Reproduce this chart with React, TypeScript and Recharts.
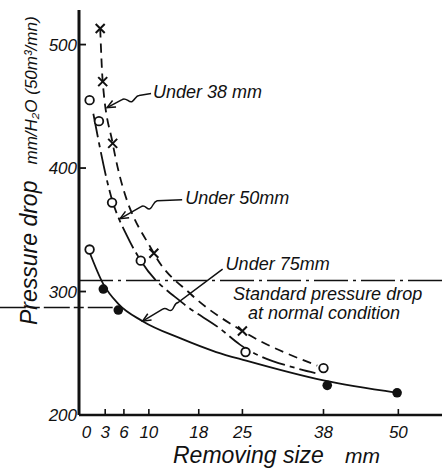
import React from 'react';
import {
  ComposedChart,
  Line,
  Scatter,
  XAxis,
  YAxis,
  ReferenceLine,
  ReferenceDot,
  Label,
} from 'recharts';

const FONT = "'Liberation Sans', Arial, sans-serif";
const INK = '#111';

// axis ticks
const sizeTicks = [0, 3, 6, 10, 18, 25, 38, 50];
const dropTicks = [200, 300, 400, 500];

// measured points: removing size (mm) vs pressure drop (mm H2O)
const under38Points = [
  { size: 2.2, drop: 513 },
  { size: 2.6, drop: 470 },
  { size: 4.2, drop: 420 },
  { size: 10.8, drop: 331 },
  { size: 25, drop: 268 },
];
const under50Points = [
  { size: 0.5, drop: 455 },
  { size: 2.0, drop: 438 },
  { size: 4.1, drop: 372 },
  { size: 8.7, drop: 325 },
  { size: 25.5, drop: 251 },
  { size: 38, drop: 238 },
];
const under75Start = [{ size: 0.5, drop: 334 }];
const under75Points = [
  { size: 2.7, drop: 302 },
  { size: 5.1, drop: 285 },
  { size: 38.6, drop: 224 },
  { size: 49.8, drop: 218 },
];

// hand-drawn curves through the points
const under38Curve = [
  { size: 2.2, drop: 513 },
  { size: 2.6, drop: 470 },
  { size: 4.2, drop: 420 },
  { size: 10.8, drop: 331 },
  { size: 16.7, drop: 298 },
  { size: 25, drop: 268 },
  { size: 37, drop: 240 },
];
const under50Curve = [
  { size: 1.1, drop: 444 },
  { size: 4.0, drop: 376 },
  { size: 6.5, drop: 345 },
  { size: 8.7, drop: 325 },
  { size: 15.6, drop: 290 },
  { size: 21.4, drop: 270 },
  { size: 24.6, drop: 257 },
  { size: 34.3, drop: 237 },
  { size: 36.7, drop: 234 },
];
const under75Curve = [
  { size: 0.4, drop: 333 },
  { size: 2.7, drop: 306 },
  { size: 5.1, drop: 290 },
  { size: 9, drop: 276 },
  { size: 15.1, drop: 262 },
  { size: 20.8, drop: 251 },
  { size: 25.6, drop: 244 },
  { size: 38, drop: 228 },
  { size: 49.8, drop: 218 },
];

const standardDrop = 309;
const normalDrop = 287;

const txt = { fontFamily: FONT, fontStyle: 'italic', fill: INK } as const;

const arrowHead = (x: number, y: number) => {
  const len = Math.hypot(x, y);
  const ux = x / len;
  const uy = y / len;
  const a = 0.42;
  const L = 9;
  const c = Math.cos(a);
  const s = Math.sin(a);
  return `M${L * (ux * c - uy * s)},${L * (ux * s + uy * c)} L0,0 L${L * (ux * c + uy * s)},${L * (-ux * s + uy * c)}`;
};

const leader = (path: string, first: [number, number], label: string, tx: number, ty: number) =>
  (props: any) => {
    const { cx, cy } = props;
    return (
      <g transform={`translate(${cx},${cy})`}>
        <path d={path} fill="none" stroke={INK} strokeWidth={1.5} />
        <path d={arrowHead(first[0], first[1])} fill="none" stroke={INK} strokeWidth={1.5} />
        <text x={tx} y={ty} fontSize={18} {...txt}>{label}</text>
      </g>
    );
  };

const XMark = (props: any) => {
  const { cx, cy } = props;
  const r = 4.5;
  return (
    <path
      d={`M${cx - r},${cy - r} L${cx + r},${cy + r} M${cx - r},${cy + r} L${cx + r},${cy - r}`}
      stroke={INK}
      strokeWidth={2}
    />
  );
};

const OpenDot = (props: any) => (
  <circle cx={props.cx} cy={props.cy} r={4.3} fill="#fff" stroke={INK} strokeWidth={1.8} />
);

const FilledDot = (props: any) => (
  <circle cx={props.cx} cy={props.cy} r={4.8} fill={INK} />
);

const YTick = (props: any) => {
  const { x, y, payload } = props;
  const ax = x + 2;
  return (
    <g>
      {payload.value !== 200 && (
        <line x1={ax} x2={ax + 7} y1={y} y2={y} stroke={INK} strokeWidth={1.8} />
      )}
      <text x={x} y={y + 6} textAnchor="end" fontSize={17} {...txt}>
        {payload.value}
      </text>
    </g>
  );
};

const XTick = (props: any) => {
  const { x, y, payload } = props;
  return (
    <g>
      {payload.value !== 0 && (
        <line x1={x} x2={x} y1={y} y2={y - 6} stroke={INK} strokeWidth={1.6} />
      )}
      <text x={x} y={y + 23} textAnchor="middle" fontSize={17} {...txt}>
        {payload.value}
      </text>
    </g>
  );
};

const StandardText = (props: any) => (
  <g>
    <text x={props.cx} y={props.cy + 20} fontSize={18} {...txt}>Standard pressure drop</text>
    <text x={props.cx + 15} y={props.cy + 39} fontSize={18} {...txt}>at normal condition</text>
  </g>
);

export default function App() {
  return (
    <div style={{ position: 'absolute', left: 0, top: 0, width: 442, height: 469, background: '#fff' }}>
      <ComposedChart width={442} height={469} margin={{ top: 10, right: 0, bottom: 0, left: 0 }}>
        <XAxis
          type="number"
          dataKey="size"
          domain={[-1.2, 57]}
          ticks={sizeTicks}
          allowDataOverflow
          height={54}
          tickSize={0}
          tickMargin={0}
          tickLine={false}
          tick={<XTick />}
          axisLine={{ stroke: INK, strokeWidth: 2.6 }}
        >
          <Label
            content={() => (
              <text y={463} fontSize={23} {...txt}>
                <tspan x={173}>Removing size</tspan>
                <tspan x={345} fontSize={21}>mm</tspan>
              </text>
            )}
          />
        </XAxis>
        <YAxis
          type="number"
          dataKey="drop"
          domain={[200, 528]}
          ticks={dropTicks}
          allowDataOverflow
          width={79}
          tickSize={0}
          tickMargin={2}
          tickLine={false}
          tick={<YTick />}
          axisLine={{ stroke: INK, strokeWidth: 3 }}
        >
          <Label
            content={() => (
              <text transform="rotate(-90, 37, 325)" x={37} y={325} fontSize={23} {...txt}>
                Pressure drop
                <tspan dx={16} fontSize={17}>mm/H₂O (50m³/mn)</tspan>
              </text>
            )}
          />
        </YAxis>

        <ReferenceLine
          y={standardDrop}
          stroke={INK}
          strokeWidth={1.5}
          strokeDasharray="34 5 3 5"
        />
        <ReferenceLine
          segment={[{ x: -13.9, y: normalDrop }, { x: 4.2, y: normalDrop }]}
          ifOverflow="visible"
          stroke={INK}
          strokeWidth={1.5}
          strokeDasharray="26 4 10 4"
        />

        <Line data={under38Curve} dataKey="drop" type="monotone" stroke={INK} strokeWidth={1.8}
          strokeDasharray="9 6" dot={false} activeDot={false} isAnimationActive={false} />
        <Line data={under50Curve} dataKey="drop" type="monotone" stroke={INK} strokeWidth={1.8}
          strokeDasharray="24 5 5 5" dot={false} activeDot={false} isAnimationActive={false} />
        <Line data={under75Curve} dataKey="drop" type="monotone" stroke={INK} strokeWidth={1.8}
          dot={false} activeDot={false} isAnimationActive={false} />

        <Scatter data={under38Points} dataKey="drop" shape={<XMark />} isAnimationActive={false} />
        <Scatter data={under50Points} dataKey="drop" shape={<OpenDot />} isAnimationActive={false} />
        <Scatter data={under75Start} dataKey="drop" shape={<OpenDot />} isAnimationActive={false} />
        <Scatter data={under75Points} dataKey="drop" shape={<FilledDot />} isAnimationActive={false} />

        <ReferenceDot
          x={3.3}
          y={449}
          shape={leader('M0,0 L15,-8 C19,-11 22,-4 25,-6 C28,-8 29,-12 32,-12 L44,-14', [15, -8], 'Under 38 mm', 46, -10)}
        />
        <ReferenceDot
          x={5.4}
          y={359}
          shape={leader('M0,0 L21,-12 C25,-15 27,-8 30,-10 C33,-12 33,-17 37,-18 L62,-19', [21, -12], 'Under 50mm', 65, -15)}
        />
        <ReferenceDot
          x={9}
          y={276}
          shape={leader('M0,0 L20,-12 C24,-15 26,-9 29,-11 C32,-13 31,-18 36,-19 L80,-52', [20, -12], 'Under 75mm', 83, -51)}
        />
        <ReferenceDot x={23.5} y={standardDrop} shape={<StandardText />} />
      </ComposedChart>
    </div>
  );
}
